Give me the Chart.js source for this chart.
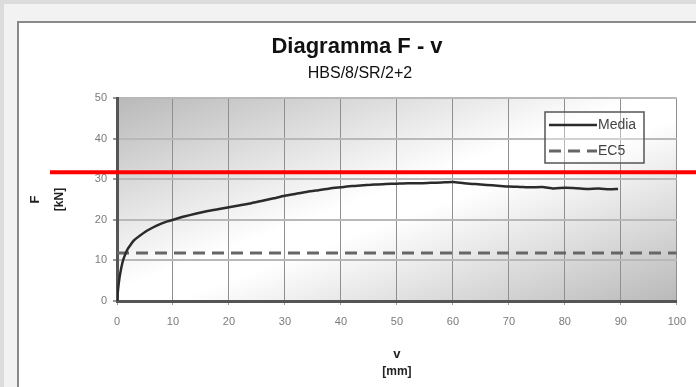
<!DOCTYPE html>
<html>
<head>
<meta charset="utf-8">
<script src="https://cdn.jsdelivr.net/npm/chart.js@4"></script>
<style>
  html, body { margin: 0; padding: 0; background: #dedede; }
  #wrap { position: relative; width: 696px; height: 387px; }
</style>
</head>
<body>
<div id="wrap"><canvas id="grafico" width="696" height="387"></canvas></div>
<script>
// dati
const titolo = 'Diagramma F - v';
const sottotitolo = 'HBS/8/SR/2+2';
const xTicks = [0, 10, 20, 30, 40, 50, 60, 70, 80, 90, 100];
const yTicks = [0, 10, 20, 30, 40, 50];

const vMedia = [0, 0.2, 0.5, 1, 1.5, 2, 2.5, 3, 4, 5, 6, 7, 8, 9, 10, 12, 14, 16, 18, 20,
  22, 24, 26, 28, 30, 32, 34, 36, 38, 40, 42, 44, 46, 48, 50, 52, 54, 56, 58, 60,
  62, 64, 66, 68, 70, 72, 74, 76, 78, 80, 82, 84, 86, 88, 89.5];
const fMedia = [0, 3, 6.2, 9.6, 11.6, 13, 14, 14.9, 16, 17, 17.8, 18.5, 19.1, 19.6, 20, 20.8, 21.5, 22.1, 22.6, 23.1,
  23.6, 24.1, 24.7, 25.3, 25.9, 26.4, 26.9, 27.3, 27.7, 28, 28.3, 28.5, 28.7, 28.8, 28.9, 29.0, 29.0, 29.1, 29.2, 29.3,
  29.0, 28.8, 28.6, 28.4, 28.2, 28.1, 28.0, 28.1, 27.7, 27.9, 27.8, 27.6, 27.7, 27.5, 27.6];

const vEC5 = [0, 100];
const fEC5 = [11.8, 11.8];

const livelloRosso = 31.7;

const toXY = (xs, ys) => xs.map((x, i) => ({ x: x, y: ys[i] }));

// sfondo, cornice, testi, legenda e linea rossa
const decorazioni = {
  id: 'decorazioni',
  beforeDraw(chart) {
    const c = chart.ctx;
    const a = chart.chartArea;
    c.save();
    c.fillStyle = '#dcdcdc';
    c.fillRect(0, 0, chart.width, chart.height);
    c.fillStyle = '#f2f2f2';
    c.fillRect(4, 4, chart.width, chart.height);
    c.fillStyle = '#ffffff';
    c.fillRect(17, 21, chart.width, chart.height);
    c.strokeStyle = '#8a8a8a';
    c.lineWidth = 2;
    c.beginPath();
    c.moveTo(18, chart.height);
    c.lineTo(18, 22);
    c.lineTo(chart.width, 22);
    c.stroke();

    // gradiente diagonale dell'area del grafico
    c.translate(a.left, a.top);
    c.scale(a.right - a.left, a.bottom - a.top);
    const g = c.createLinearGradient(0, 0, 1, 1);
    g.addColorStop(0, '#b9b9b9');
    g.addColorStop(0.47, '#ffffff');
    g.addColorStop(0.55, '#ffffff');
    g.addColorStop(1, '#b9b9b9');
    c.fillStyle = g;
    c.fillRect(0, 0, 1, 1);
    c.restore();
  },
  afterDraw(chart) {
    const c = chart.ctx;
    const a = chart.chartArea;
    const yS = chart.scales.y;
    const cx = (a.left + a.right) / 2;
    c.save();
    c.fillStyle = '#111';
    c.textAlign = 'center';
    c.textBaseline = 'alphabetic';
    c.font = 'bold 22px Arial, "Liberation Sans", sans-serif';
    c.fillText(titolo, 357, 53);
    c.font = '16px Arial, "Liberation Sans", sans-serif';
    c.fillText(sottotitolo, 360, 78);

    // titoli degli assi
    c.textBaseline = 'middle';
    c.fillStyle = '#222';
    c.font = 'bold 13px Arial, "Liberation Sans", sans-serif';
    c.fillText('v', cx, 354);
    c.font = 'bold 12px Arial, "Liberation Sans", sans-serif';
    c.fillText('[mm]', cx, 372);
    const cy = (a.top + a.bottom) / 2;
    c.save();
    c.translate(35, cy);
    c.rotate(-Math.PI / 2);
    c.font = 'bold 13px Arial, "Liberation Sans", sans-serif';
    c.fillText('F', 0, 0);
    c.restore();
    c.save();
    c.translate(60, cy);
    c.rotate(-Math.PI / 2);
    c.font = 'bold 12px Arial, "Liberation Sans", sans-serif';
    c.fillText('[kN]', 0, 0);
    c.restore();

    // legenda
    const lx = 545, ly = 112, lw = 99, lh = 51;
    c.fillStyle = 'rgba(255,255,255,0.35)';
    c.fillRect(lx, ly, lw, lh);
    c.strokeStyle = '#555';
    c.lineWidth = 1.5;
    c.strokeRect(lx, ly, lw, lh);
    c.textAlign = 'left';
    c.font = '14px Arial, "Liberation Sans", sans-serif';
    chart.data.datasets.forEach((ds, i) => {
      const yy = ly + 13 + i * 26;
      c.beginPath();
      c.strokeStyle = ds.borderColor;
      c.lineWidth = ds.borderWidth;
      c.setLineDash(ds.borderDash || []);
      c.moveTo(lx + 4, yy);
      c.lineTo(lx + 52, yy);
      c.stroke();
      c.setLineDash([]);
      c.fillStyle = '#444';
      c.fillText(ds.label, lx + 53, yy);
    });

    // linea rossa
    const yr = yS.getPixelForValue(livelloRosso);
    c.beginPath();
    c.strokeStyle = '#ff0000';
    c.lineWidth = 4;
    c.moveTo(50, yr);
    c.lineTo(chart.width, yr);
    c.stroke();
    c.restore();
  }
};

const ctx = document.getElementById('grafico').getContext('2d');
const grafico = new Chart(ctx, {
  type: 'line',
  data: {
    datasets: [{
      label: 'Media',
      data: toXY(vMedia, fMedia),
      borderColor: '#2b2b2b',
      borderWidth: 2.5,
      pointRadius: 0,
      tension: 0.2
    }, {
      label: 'EC5',
      data: toXY(vEC5, fEC5),
      borderColor: '#666666',
      borderWidth: 3,
      borderDash: [12, 7],
      pointRadius: 0
    }]
  },
  options: {
    responsive: false,
    animation: false,
    layout: { padding: { left: 0, top: 98, right: 19, bottom: 0 } },
    plugins: {
      legend: { display: false },
      tooltip: { enabled: false }
    },
    scales: {
      x: {
        type: 'linear',
        min: 0,
        max: 100,
        afterBuildTicks: s => { s.ticks = xTicks.map(v => ({ value: v })); },
        afterFit: s => { s.height = 86; },
        grid: { color: '#8f8f8f', lineWidth: 1, tickLength: 4, tickColor: '#999' },
        border: { color: '#555', width: 3 },
        ticks: {
          padding: 10,
          color: '#7a7a7a',
          font: { family: 'Arial, "Liberation Sans", sans-serif', size: 11 }
        }
      },
      y: {
        min: 0,
        max: 50,
        afterBuildTicks: s => { s.ticks = yTicks.map(v => ({ value: v })); },
        afterFit: s => { s.width = 117; },
        grid: { color: '#b8b8b8', lineWidth: 2, tickLength: 4, tickColor: '#999' },
        border: { color: '#555', width: 3 },
        ticks: {
          padding: 6,
          color: '#7a7a7a',
          font: { family: 'Arial, "Liberation Sans", sans-serif', size: 11 }
        }
      }
    }
  },
  plugins: [decorazioni]
});
</script>
</body>
</html>
